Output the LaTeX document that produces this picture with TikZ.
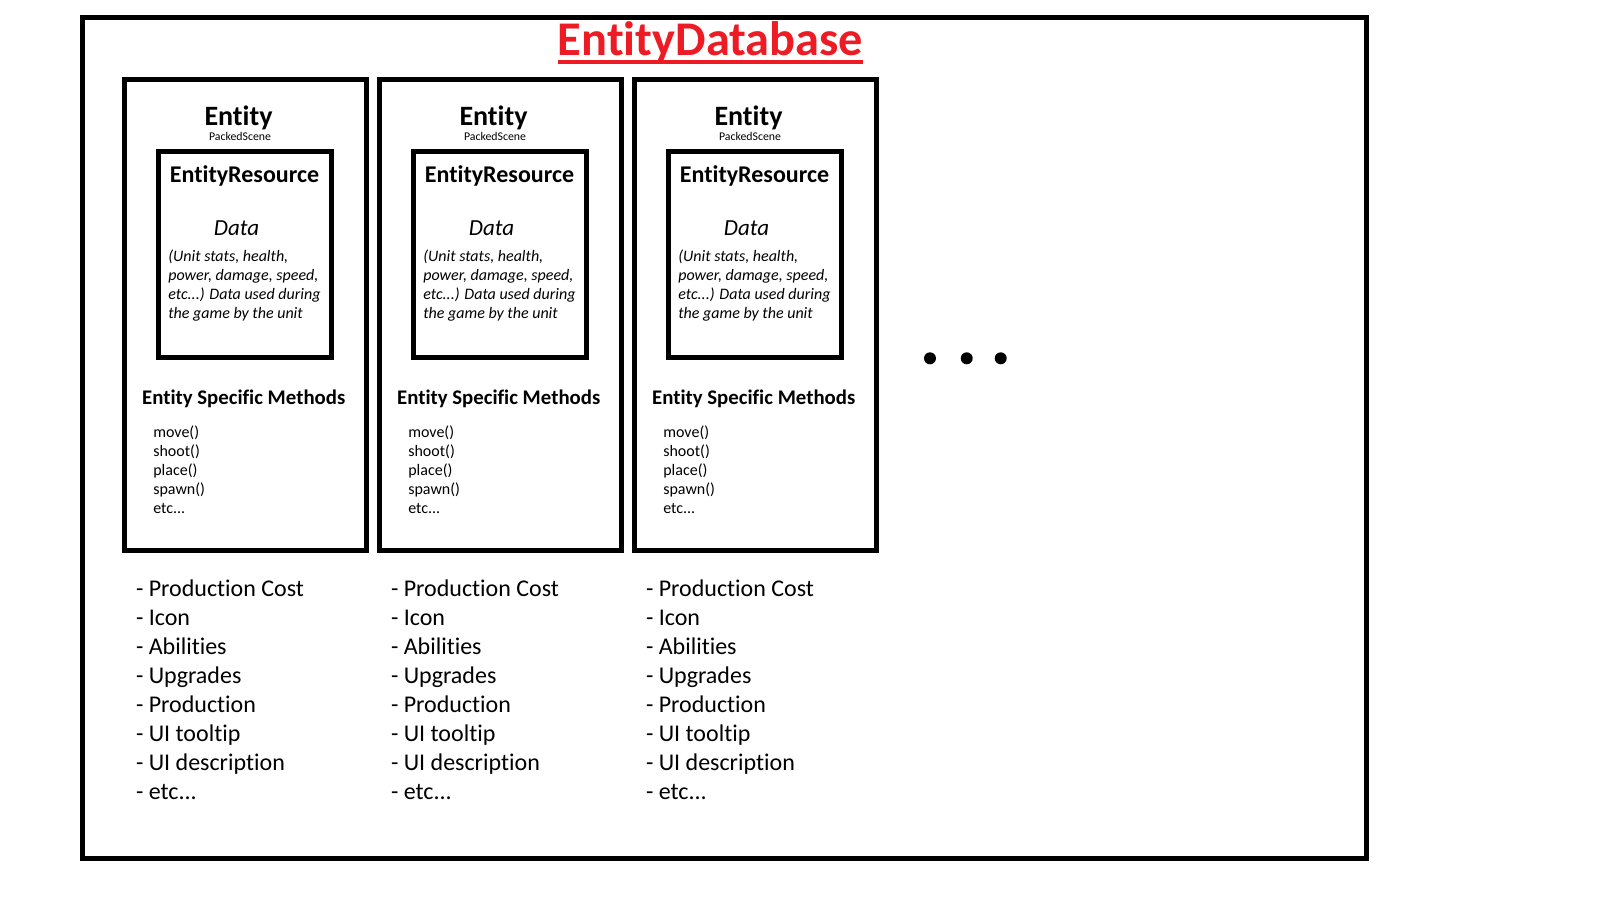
\documentclass[tikz,border=0pt]{standalone}
\usepackage{fontspec}
\setmainfont{Carlito}[Ligatures=NoCommon]
\definecolor{titlered}{RGB}{237,28,36}
\newcommand{\myetc}{etc...}
\newcommand{\myparaiii}{etc...) Data used during}
\begin{document}
\begin{tikzpicture}[x=0.5pt,y=-0.5pt,
  frame/.style={draw=black,line width=2.5pt},
  txt/.style={inner sep=0pt,outer sep=0pt},
  titlefont/.style={font=\bfseries\fontsize{24.2}{28}\selectfont,text=titlered},
  entfont/.style={font=\bfseries\fontsize{14}{16}\selectfont},
  psfont/.style={font=\fontsize{5.9}{7}\selectfont},
  erfont/.style={font=\bfseries\fontsize{12}{14}\selectfont},
  datafont/.style={font=\itshape\fontsize{11.5}{14}\selectfont},
  parafont/.style={font=\itshape\fontsize{8}{9.5}\selectfont},
  methhead/.style={font=\bfseries\fontsize{10.4}{12}\selectfont},
  methfont/.style={font=\fontsize{8}{9.5}\selectfont},
  listfont/.style={font=\fontsize{12}{14}\selectfont},
  dot/.style={fill=black,draw=none}]
\useasboundingbox (0,0) rectangle (1600,900);
% outer frame
\draw[frame] (82.5,17.5) rectangle (1366.5,858.5);
% title
\node[txt,titlefont,anchor=base] (title) at (710.5,55) {EntityDatabase};
\draw[titlered,line width=2pt] ([yshift=-3.5pt]title.base west) -- ([yshift=-3.5pt]title.base east);
% entity boxes
\foreach \b/\dx in {1/0,2/255,3/510} {
  \begin{scope}[shift={(\dx,0)}]
    \draw[frame] (124,79.5) rectangle (366.5,550.5);
    \draw[frame] (158.5,151.5) rectangle (331,357.5);
    \node[txt,entfont,anchor=base] (ent\b) at (238.5,125.7) {Entity};
    \node[txt,psfont,anchor=base] (ps\b) at (240,140) {PackedScene};
    \node[txt,erfont,anchor=base] (er\b) at (244.5,182.7) {EntityResource};
    \node[txt,datafont,anchor=base] (data\b) at (236.5,235) {Data};
    \foreach \t [count=\i] in {{(Unit stats, health,},{power, damage, speed,},\myparaiii,{the game by the unit}} {
      \node[txt,parafont,anchor=base west] (para\b-\i) at ({168.3},{261.7+19*(\i-1)}) {\t};
    }
    \node[txt,methhead,anchor=base] (mh\b) at (243.7,404) {Entity Specific Methods};
    \foreach \t [count=\i] in {move(),shoot(),place(),spawn(),\myetc} {
      \node[txt,methfont,anchor=base west] (meth\b-\i) at ({153.3},{437+19*(\i-1)}) {\t};
    }
    \foreach \t [count=\i] in {Production Cost,Icon,Abilities,Upgrades,Production,UI tooltip,UI description,\myetc} {
      \node[txt,listfont,anchor=base west] (list\b-\i) at ({136},{596.7+29*(\i-1)}) {- \t};
    }
  \end{scope}
}
% ellipsis dots
\fill[dot] (930,358.3) circle (3pt);
\fill[dot] (966.7,358.3) circle (3pt);
\fill[dot] (1000.7,358.3) circle (3pt);
\end{tikzpicture}
\end{document}
